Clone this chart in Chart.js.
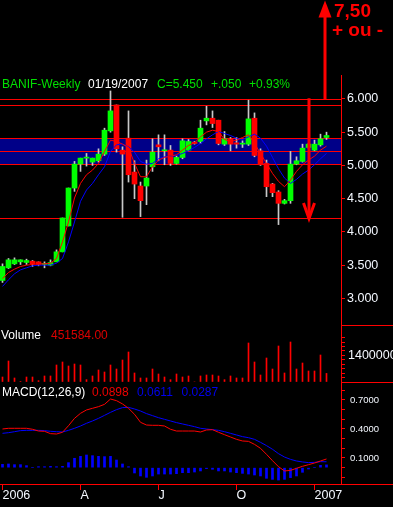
<!DOCTYPE html>
<html>
<head>
<meta charset="utf-8">
<title>BANIF Weekly</title>
<script src="https://cdn.jsdelivr.net/npm/chart.js@4.4.1/dist/chart.umd.min.js"></script>
<style>
  html, body { margin: 0; padding: 0; background: #000; }
  #board { position: relative; width: 393px; height: 507px; background: #000; overflow: hidden; }
  #board canvas { position: absolute; left: 0; }
</style>
</head>
<body>
<div id="board">
  <canvas id="priceChart" width="393" height="325" style="top:0"></canvas>
  <canvas id="volumeChart" width="393" height="57" style="top:325px"></canvas>
  <canvas id="macdChart" width="393" height="125" style="top:382px"></canvas>
</div>
<script>
// weekly bars, first week of jan 2006 -> 01/19/2007
const opens  = [3.27,3.46,3.52,3.55,3.54,3.56,3.55,3.51,3.50,3.55,3.70,4.09,4.66,5.02,5.11,5.05,5.07,5.17,5.52,5.91,
                5.23,5.41,4.90,4.69,4.69,4.98,5.31,5.22,5.23,5.03,5.12,5.23,5.35,5.36,5.67,5.71,5.68,5.32,5.40,5.34,
                5.32,5.32,5.71,5.22,5.03,4.72,4.60,4.43,4.47,5.02,5.06,5.27,5.23,5.31,5.42];
const closes = [3.48,3.58,3.58,3.58,3.57,3.52,3.51,3.51,3.54,3.70,4.21,4.66,5.02,5.11,5.11,5.11,5.17,5.53,5.82,5.25,
                5.17,4.86,4.72,4.47,4.81,5.20,5.28,5.23,5.03,5.12,5.37,5.36,5.33,5.56,5.71,5.63,5.33,5.40,5.32,5.32,
                5.33,5.70,5.15,5.01,4.68,4.59,4.43,4.47,5.02,5.07,5.26,5.32,5.32,5.40,5.45];
const highs  = [3.52,3.60,3.61,3.58,3.59,3.57,3.55,3.55,3.58,3.73,4.21,4.66,5.06,5.11,5.18,5.11,5.25,5.56,6.12,5.91,
                5.28,5.82,5.07,4.75,5.08,5.40,5.46,5.46,5.30,5.14,5.40,5.39,5.36,5.68,5.89,5.82,5.68,5.51,5.42,5.42,
                5.37,5.98,5.79,5.25,5.08,4.73,4.62,4.49,5.21,5.13,5.32,5.33,5.38,5.47,5.50];
const lows   = [3.24,3.45,3.51,3.51,3.51,3.48,3.49,3.46,3.49,3.55,3.70,4.09,4.61,4.91,4.99,5.00,5.05,5.15,5.50,5.20,
                4.22,4.75,4.50,4.23,4.41,4.91,5.07,5.01,5.00,5.02,5.10,5.22,5.32,5.33,5.61,5.57,5.31,5.30,5.22,5.26,
                5.27,5.30,5.13,5.00,4.53,4.53,4.11,4.42,4.43,5.01,5.05,5.26,5.22,5.29,5.39];
const fastMA = [3.30,3.39,3.44,3.48,3.50,3.51,3.52,3.52,3.53,3.60,3.85,4.15,4.51,4.73,4.86,4.93,5.03,5.21,5.38,5.36,
                5.32,5.27,5.03,4.83,4.83,4.98,5.08,5.12,5.14,5.16,5.23,5.30,5.34,5.43,5.50,5.53,5.51,5.39,5.36,5.38,
                5.42,5.46,5.33,5.18,5.03,4.88,4.76,4.68,4.78,4.91,5.01,5.08,5.14,5.23,5.29];
const slowMA = [3.18,3.28,3.37,3.43,3.46,3.49,3.50,3.50,3.50,3.53,3.60,3.85,4.15,4.46,4.63,4.73,4.86,4.98,5.21,5.31,
                5.32,5.28,5.20,5.06,5.02,5.03,5.10,5.13,5.14,5.15,5.18,5.22,5.27,5.33,5.40,5.46,5.51,5.48,5.45,5.41,
                5.39,5.43,5.47,5.41,5.29,5.12,4.95,4.81,4.73,4.79,4.87,4.93,5.01,5.10,5.18];
const volumes = [263000,1105000,211000,30000,263000,263000,70000,316000,316000,895000,1053000,842000,947000,895000,
                 123000,316000,632000,526000,895000,684000,1158000,1579000,474000,211000,211000,684000,421000,263000,
                 123000,421000,263000,316000,0,316000,368000,368000,316000,123000,316000,211000,211000,2053000,
                 1053000,368000,1263000,684000,1895000,474000,2105000,684000,1000000,579000,579000,1421000,451584];
const macdLine   = [0.400,0.407,0.407,0.407,0.407,0.397,0.379,0.376,0.352,0.348,0.366,0.434,0.510,0.562,0.597,0.614,
                    0.631,0.655,0.710,0.693,0.659,0.614,0.552,0.469,0.441,0.438,0.438,0.431,0.397,0.379,0.379,0.379,
                    0.379,0.369,0.390,0.393,0.366,0.341,0.317,0.293,0.276,0.272,0.241,0.200,0.138,0.072,0.010,-0.034,
                    -0.028,-0.007,0.014,0.031,0.048,0.069,0.0898];
const signalLine = [0.355,0.362,0.372,0.383,0.386,0.386,0.386,0.383,0.376,0.372,0.369,0.386,0.407,0.431,0.459,0.483,
                    0.510,0.541,0.572,0.600,0.621,0.624,0.607,0.586,0.559,0.538,0.517,0.500,0.483,0.466,0.452,0.438,
                    0.424,0.407,0.400,0.393,0.386,0.372,0.355,0.338,0.321,0.310,0.293,0.262,0.228,0.190,0.145,0.110,
                    0.086,0.069,0.059,0.052,0.055,0.062,0.0611];
const histBars   = [0.034,0.038,0.031,0.031,0.021,0.000,0.010,0.010,0.014,0.010,0.014,0.052,0.097,0.117,0.131,0.124,
                    0.117,0.114,0.117,0.079,0.038,0.010,-0.055,-0.086,-0.100,-0.086,-0.066,-0.066,-0.066,-0.062,-0.052,
                    -0.052,-0.045,-0.034,-0.010,-0.017,-0.034,-0.034,-0.045,-0.052,-0.059,-0.066,-0.076,-0.086,-0.110,
                    -0.121,-0.128,-0.121,-0.103,-0.086,-0.048,-0.014,0.000,0.024,0.0287];

const lastDate = '01/19/2007';
const xTickWeeks  = [0, 13, 26, 39, 52];
const xTickLabels = ['2006', 'A', 'J', 'O', '2007'];
const priceTicks  = [3.0, 3.5, 4.0, 4.5, 5.0, 5.5, 6.0];
const volumeTicks = [0, 233333, 466667, 700000, 933333, 1166667, 1400000, 1633333, 1866667, 2100000, 2333333];
const volumeLabels = [1400000];
const macdTicks   = [-0.1, 0.0, 0.1, 0.2, 0.3, 0.4, 0.5, 0.6, 0.7, 0.8];
const macdLabels  = [0.1, 0.4, 0.7];
// horizontal levels drawn on the price panel
const levels = [6.00, 5.91, 5.41, 5.22, 5.02, 4.21];
const band   = [5.02, 5.41];
const downArrow = { week: 51.15, top: 6.01, tip: 4.18 };
const upArrow   = { week: 53.8, bottom: 5.985, tip: 7.48 };

const RED = '#ff0000', GREEN = '#00ff00', BLUE = '#0000ff', NAVY = '#000088', WICK = '#c8c8c8';
const TXT = '#f4f8ff', TXT_GREEN = '#00e000';
const FAMILY = "'Liberation Sans', Arial, sans-serif";

// x: one slot = 6px, first bar centred at 2.5px, plot ends at 341px
const xMin = -2.5 / 6, xMax = (341 - 2.5) / 6;
const last = closes.length - 1;

function xAxis(show) {
  return {
    type: 'linear', min: xMin, max: xMax, display: show, offset: false,
    afterBuildTicks: s => { s.ticks = xTickWeeks.map(v => ({ value: v })); },
    afterFit: s => { s.height = show ? 23 : 0; s.paddingLeft = 0; s.paddingRight = 0; },
    grid: { offset: false, drawOnChartArea: false, tickLength: 6, color: RED },
    border: { color: RED, width: 1 },
    ticks: { align: 'start', color: TXT, padding: -2, maxRotation: 0, autoSkip: false,
             font: { family: FAMILY, size: 12.5 }, callback: (v, i) => xTickLabels[i] }
  };
}

function yAxis(min, max, tickValues, labelValues, fmt, fontSize, pad) {
  return {
    position: 'right', min, max,
    afterFit: s => { s.width = 52; s.paddingTop = 0; s.paddingBottom = 0; },
    afterBuildTicks: s => { s.ticks = tickValues.map(v => ({ value: v })); },
    grid: { drawOnChartArea: false, drawTicks: true, tickLength: 4, color: RED },
    border: { display: true, color: RED, width: 1 },
    ticks: { color: TXT, padding: pad, autoSkip: false, font: { family: FAMILY, size: fontSize },
             callback: v => labelValues.includes(v) ? fmt(v) : '' }
  };
}

const baseOptions = {
  responsive: false, animation: false, events: [], devicePixelRatio: 1,
  plugins: { legend: { display: false }, tooltip: { enabled: false } }
};

function text(ctx, str, x, y, color, font) {
  ctx.font = font;
  ctx.fillStyle = color;
  ctx.fillText(str, x, y);
}

const priceDecor = {
  id: 'priceDecor',
  beforeDatasetsDraw(chart) {
    const { ctx, chartArea: a, scales: { y } } = chart;
    ctx.save();
    const t = y.getPixelForValue(band[1]), b = y.getPixelForValue(band[0]);
    ctx.fillStyle = NAVY;
    ctx.fillRect(a.left, Math.round(t), a.right - a.left, Math.round(b) - Math.round(t));
    ctx.fillStyle = RED;
    levels.forEach(v => ctx.fillRect(a.left, Math.round(y.getPixelForValue(v)), a.right - a.left, 1));
    ctx.restore();
  },
  afterDraw(chart) {
    const { ctx, scales: { x, y } } = chart;
    ctx.save();
    const f = '12px ' + FAMILY;
    const change = closes[last] - closes[last - 1];
    const sign = change >= 0 ? '+' : '-';
    text(ctx, 'BANIF-Weekly', 2, 87.5, TXT_GREEN, f);
    text(ctx, lastDate, 88, 87.5, '#ffffff', f);
    text(ctx, 'C=' + closes[last].toFixed(3), 157, 87.5, TXT_GREEN, f);
    text(ctx, sign + Math.abs(change).toFixed(3).replace(/^0/, ''), 211, 87.5, TXT_GREEN, f);
    text(ctx, sign + Math.abs(change / closes[last - 1] * 100).toFixed(2) + '%', 249, 87.5, TXT_GREEN, f);

    ctx.fillStyle = RED;
    ctx.strokeStyle = RED;
    // down arrow
    const dx = Math.round(x.getPixelForValue(downArrow.week));
    const dTop = y.getPixelForValue(downArrow.top), dTip = y.getPixelForValue(downArrow.tip);
    ctx.fillRect(dx - 1.5, dTop, 3, dTip - dTop - 2);
    ctx.lineWidth = 3;
    ctx.beginPath();
    ctx.moveTo(dx - 5.5, dTip - 17);
    ctx.lineTo(dx, dTip - 1.5);
    ctx.lineTo(dx + 5.5, dTip - 17);
    ctx.stroke();
    // up arrow
    const ux = Math.round(x.getPixelForValue(upArrow.week));
    const uBot = y.getPixelForValue(upArrow.bottom), uTip = y.getPixelForValue(upArrow.tip);
    ctx.fillRect(ux - 1.5, uTip + 10, 3, uBot - uTip - 10);
    ctx.beginPath();
    ctx.moveTo(ux, uTip);
    ctx.lineTo(ux - 6.5, uTip + 17);
    ctx.lineTo(ux + 6.5, uTip + 17);
    ctx.closePath();
    ctx.fill();
    text(ctx, '7,50', 334, 16.7, RED, 'bold 19px ' + FAMILY);
    text(ctx, '+ ou -', 332, 35.5, RED, 'bold 19px ' + FAMILY);
    ctx.restore();
  }
};

new Chart(document.getElementById('priceChart'), {
  type: 'bar',
  data: {
    datasets: [
      { type: 'line', data: fastMA.map((v, i) => ({ x: i, y: v })), borderColor: RED, borderWidth: 1,
        pointRadius: 0, tension: 0, order: 0 },
      { type: 'line', data: slowMA.map((v, i) => ({ x: i, y: v })), borderColor: BLUE, borderWidth: 1,
        pointRadius: 0, tension: 0, order: 1 },
      { data: opens.map((o, i) => ({ x: i, y: [o, closes[i]] })),
        backgroundColor: closes.map((c, i) => c >= opens[i] ? GREEN : RED),
        barThickness: 5, minBarLength: 1, grouped: false, borderWidth: 0, order: 2 },
      { data: lows.map((l, i) => ({ x: i, y: [l, highs[i]] })), backgroundColor: WICK,
        barThickness: 1, grouped: false, borderWidth: 0, order: 3 }
    ]
  },
  options: Object.assign({}, baseOptions, {
    layout: { padding: { top: 75 } },
    scales: {
      x: xAxis(false),
      y: yAxis(2.60, 6.36, priceTicks, priceTicks, v => v.toFixed(3), 12.5, 2)
    }
  }),
  plugins: [priceDecor]
});

const volumeDecor = {
  id: 'volumeDecor',
  afterDraw(chart) {
    const { ctx, chartArea: a, width } = chart;
    ctx.save();
    ctx.fillStyle = RED;
    ctx.fillRect(a.right, 0, width - a.right, 1);
    text(ctx, 'Volume', 1, 13.5, '#ffffff', '12px ' + FAMILY);
    text(ctx, volumes[last].toFixed(2), 51, 13.5, '#dd0000', '12px ' + FAMILY);
    ctx.restore();
  }
};

new Chart(document.getElementById('volumeChart'), {
  type: 'bar',
  data: {
    datasets: [
      { data: volumes.map((v, i) => ({ x: i, y: v })), backgroundColor: RED, barThickness: 1,
        grouped: false, borderWidth: 0 }
    ]
  },
  options: Object.assign({}, baseOptions, {
    scales: {
      x: xAxis(false),
      y: yAxis(0, 3000000, volumeTicks, volumeLabels, v => String(v), 12.5, 3)
    }
  }),
  plugins: [volumeDecor]
});

const macdDecor = {
  id: 'macdDecor',
  afterDraw(chart) {
    const { ctx, chartArea: a, width } = chart;
    ctx.save();
    ctx.fillStyle = RED;
    ctx.fillRect(a.right, 0, width - a.right, 1);
    ctx.fillRect(a.right, Math.round(a.bottom), width - a.right, 1);
    const f = '12px ' + FAMILY;
    text(ctx, 'MACD(12,26,9)', 2, 13.5, '#ffffff', f);
    text(ctx, macdLine[last].toFixed(4), 92, 13.5, '#ee0000', f);
    text(ctx, signalLine[last].toFixed(4), 137, 13.5, '#0000ee', f);
    text(ctx, histBars[last].toFixed(4), 181.5, 13.5, '#0000ee', f);
    ctx.restore();
  }
};

new Chart(document.getElementById('macdChart'), {
  type: 'bar',
  data: {
    datasets: [
      { type: 'line', data: macdLine.map((v, i) => ({ x: i, y: v })), borderColor: RED, borderWidth: 1,
        pointRadius: 0, tension: 0, order: 0 },
      { type: 'line', data: signalLine.map((v, i) => ({ x: i, y: v })), borderColor: BLUE, borderWidth: 1,
        pointRadius: 0, tension: 0, order: 1 },
      { data: histBars.map((v, i) => ({ x: i, y: v })), backgroundColor: BLUE, barThickness: 2,
        grouped: false, borderWidth: 0, order: 2 }
    ]
  },
  options: Object.assign({}, baseOptions, {
    scales: {
      x: xAxis(true),
      y: yAxis(-0.169, 0.886, macdTicks, macdLabels, v => v.toFixed(4), 9.5, 5)
    }
  }),
  plugins: [macdDecor]
});
</script>
</body>
</html>
